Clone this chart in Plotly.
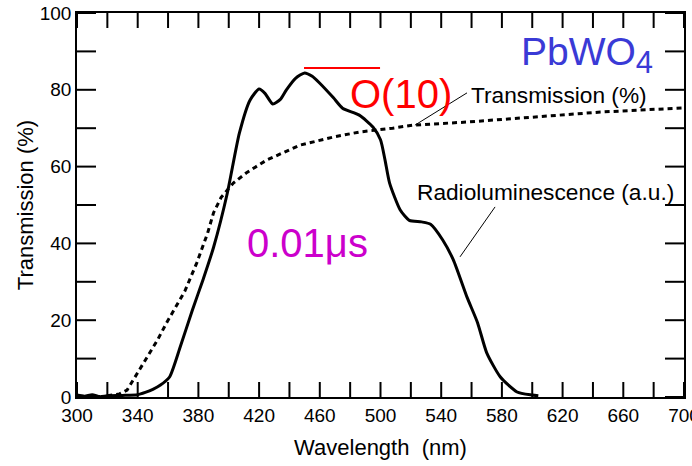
import plotly.graph_objects as go

# Radioluminescence (a.u.) curve
rl_wavelength = [300, 305, 310, 315, 320, 330, 340, 345, 350, 355, 361, 368, 376, 383, 390, 399,
                 407, 414, 420, 424, 429, 434, 438, 444, 450, 455, 460, 469, 475, 486, 495, 500,
                 503, 506, 513, 519, 527, 533, 541, 548, 557, 564, 570, 579, 590, 600, 604]
rl_value = [0.5, 0.2, 0.6, 0.1, 0.3, 0.4, 0.6, 1.2, 2.0, 3.1, 5.2, 13.0, 22.6, 30.5, 39.0, 53.0,
            68.7, 77.3, 80.2, 79.0, 76.3, 77.5, 80.0, 83.0, 84.4, 83.5, 81.7, 77.9, 75.2, 73.4, 70.3, 67.0,
            61.7, 55.7, 48.7, 46.0, 45.6, 45.0, 40.9, 35.7, 26.0, 19.3, 11.5, 5.2, 1.3, 0.5, 0.3]

# Transmission (%) curve
tr_wavelength = [320, 328, 333, 341, 347, 353, 359, 365, 371, 379, 386, 390, 395, 403, 412, 425,
                 447, 469, 486, 508, 521, 557, 600, 645, 700]
tr_value = [0.3, 0.8, 1.8, 7.0, 11.0, 14.8, 19.3, 23.5, 27.5, 35.0, 42.6, 48.0, 52.0, 55.7, 58.5, 61.7,
            65.6, 67.7, 69.0, 70.0, 70.8, 71.6, 72.9, 74.2, 75.3]

# ticks every 20 nm, labels every 40 nm
x_tick_values = list(range(300, 701, 20))
x_tick_labels = [str(v) if (v - 300) % 40 == 0 else "" for v in x_tick_values]
# ticks every 10 %, labels every 20 %
y_tick_values = list(range(0, 101, 10))
y_tick_labels = [str(v) if v % 20 == 0 else "" for v in y_tick_values]

x_range = [300, 700]
y_range = [0, 100]

FONT = "Liberation Sans, Arial, Helvetica, sans-serif"
X_TICK_LEN = 15
Y_TICK_LEN = 19
TICK_LINE = dict(color="black", width=2)

fig = go.Figure()
fig.add_trace(go.Scatter(x=tr_wavelength, y=tr_value, mode="lines",
                         line=dict(color="black", width=3, dash="5px,4px"),
                         showlegend=False, hoverinfo="skip"))
fig.add_trace(go.Scatter(x=rl_wavelength, y=rl_value, mode="lines",
                         line=dict(color="black", width=3, shape="spline", smoothing=0.6),
                         showlegend=False, hoverinfo="skip"))

# inside tick marks on all four sides, placed at the tick values (pixel-length marks)
for v in x_tick_values:
    fig.add_shape(type="line", xref="x", yref="y", x0=v, x1=v,
                  ysizemode="pixel", yanchor=y_range[0], y0=0, y1=X_TICK_LEN, line=TICK_LINE)
    fig.add_shape(type="line", xref="x", yref="y", x0=v, x1=v,
                  ysizemode="pixel", yanchor=y_range[1], y0=0, y1=-X_TICK_LEN, line=TICK_LINE)
for v in y_tick_values:
    fig.add_shape(type="line", xref="x", yref="y", y0=v, y1=v,
                  xsizemode="pixel", xanchor=x_range[0], x0=0, x1=Y_TICK_LEN, line=TICK_LINE)
    fig.add_shape(type="line", xref="x", yref="y", y0=v, y1=v,
                  xsizemode="pixel", xanchor=x_range[1], x0=0, x1=-Y_TICK_LEN, line=TICK_LINE)

# leader lines
fig.add_shape(type="line", x0=522.7, y0=70.8, x1=557, y1=79.2, line=dict(color="black", width=1))
fig.add_shape(type="line", x0=575.5, y0=49.5, x1=552.4, y1=36.5, line=dict(color="black", width=1))
# red overline
fig.add_shape(type="line", x0=449.6, y0=85.7, x1=499.7, y1=85.7, line=dict(color="#ff0000", width=2))

anns = [
    dict(x=558.5, y=78.6, text="Transmission (%)", font=dict(size=22.7, color="black", family=FONT)),
    dict(x=522.5, y=53.5, text="Radioluminescence (a.u.)", font=dict(size=22.7, color="black", family=FONT)),
    dict(x=591.5, y=89.0, text="PbWO<sub><span style='font-size:31px'>4</span></sub>",
         font=dict(size=39, color="#3a3ad6", family=FONT)),
    dict(x=478.5, y=78.9, text="O(10)", font=dict(size=40, color="#ff0000", family=FONT)),
    dict(x=410.5, y=40.1, text="0.01μs", font=dict(size=40, color="#cc00cc", family=FONT)),
]
for a in anns:
    fig.add_annotation(xref="x", yref="y", showarrow=False, xanchor="left", yanchor="middle", **a)

fig.update_layout(
    width=692, height=466, margin=dict(l=77, r=8, t=13, b=69, autoexpand=False),
    paper_bgcolor="white", plot_bgcolor="white",
    template="none",
    xaxis=dict(range=x_range, tickmode="array", tickvals=x_tick_values, ticktext=x_tick_labels,
               ticks="", ticklabeloverflow="allow",
               showline=True, linecolor="black", linewidth=1.5, mirror=True,
               showgrid=False, zeroline=False, automargin=False,
               tickfont=dict(size=19, color="black", family=FONT),
               title=dict(text="Wavelength\u00a0 (nm)", font=dict(size=22, color="black", family=FONT),
                          standoff=15)),
    yaxis=dict(range=y_range, tickmode="array", tickvals=y_tick_values, ticktext=y_tick_labels,
               ticks="",
               showline=True, linecolor="black", linewidth=1.5, mirror=True,
               showgrid=False, zeroline=False, automargin=False,
               tickfont=dict(size=19, color="black", family=FONT),
               title=dict(text="Transmission (%)", font=dict(size=22, color="black", family=FONT),
                          standoff=0)),
)

fig.write_html("out.html")
